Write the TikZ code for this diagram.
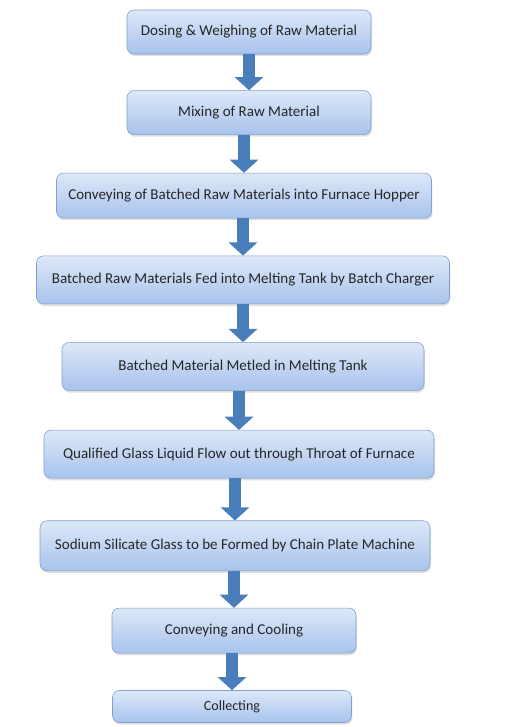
\documentclass[tikz,border=0pt]{standalone}
\usepackage{fontspec}
\setmainfont{Carlito}
\usetikzlibrary{arrows.meta,positioning,shadows}
\definecolor{boxtop}{HTML}{DDE8F8}
\definecolor{boxbot}{HTML}{A8C3EC}
\definecolor{boxline}{HTML}{7E9FCF}
\definecolor{flowblue}{HTML}{4A7EBB}

\begin{document}
\begin{tikzpicture}[
    node distance=0.95cm,
    stage/.style={draw=boxline, rounded corners=5pt, top color=boxtop, bottom color=boxbot, align=center, minimum height=1.1cm, font=\fontsize{10.7}{12.8}\selectfont, text=black!85, drop shadow={opacity=0.25, shadow xshift=0.6pt, shadow yshift=-1.5pt}},
    flow/.style={-{Triangle[length=0.33cm, width=0.7cm]}, line width=0.3cm, draw=flowblue}
]
\useasboundingbox (0,0) rectangle (12.7,-18.175);
\node[stage, minimum width=6.1cm] (dose) at (6.225,-0.8) {Dosing \& Weighing of Raw Material};
\node[stage, minimum width=6.1cm, below=0.9cm of dose] (mix) {Mixing of Raw Material};
\node[stage, minimum width=9.375cm, minimum height=1.125cm, below=0.95cm of mix, xshift=-0.125cm] (convey) {Conveying of Batched Raw Materials into Furnace Hopper};
\node[stage, minimum width=10.325cm, minimum height=1.2cm, below=0.93cm of convey, xshift=-0.025cm] (feed) {Batched Raw Materials Fed into Melting Tank by Batch Charger};
\node[stage, minimum width=9.05cm, minimum height=1.2cm, below=0.95cm of feed] (melt) {Batched Material Metled in Melting Tank};
\node[stage, minimum width=9.75cm, minimum height=1.2cm, below=0.98cm of melt, xshift=-0.1cm] (throat) {Qualified Glass Liquid Flow out through Throat of Furnace};
\node[stage, minimum width=9.75cm, minimum height=1.25cm, below=1.05cm of throat, xshift=-0.1cm] (form) {Sodium Silicate Glass to be Formed by Chain Plate Machine};
\node[stage, minimum width=6.1cm, minimum height=1.125cm, below=0.92cm of form, xshift=-0.025cm] (cool) {Conveying and Cooling};
\node[stage, minimum width=5.975cm, minimum height=0.8cm, below=0.92cm of cool, xshift=-0.05cm, font=\fontsize{10}{12}\selectfont] (collect) {Collecting};
% block arrows between stages
\draw[flow] (mix.north |- dose.south) -- (mix.north);
\draw[flow] (convey.north |- mix.south) -- (convey.north);
\draw[flow] (feed.north |- convey.south) -- (feed.north);
\draw[flow] (melt.north |- feed.south) -- (melt.north);
\draw[flow] (throat.north |- melt.south) -- (throat.north);
\draw[flow] (form.north |- throat.south) -- (form.north);
\draw[flow] (cool.north |- form.south) -- (cool.north);
\draw[flow] (collect.north |- cool.south) -- (collect.north);
\end{tikzpicture}
\end{document}
